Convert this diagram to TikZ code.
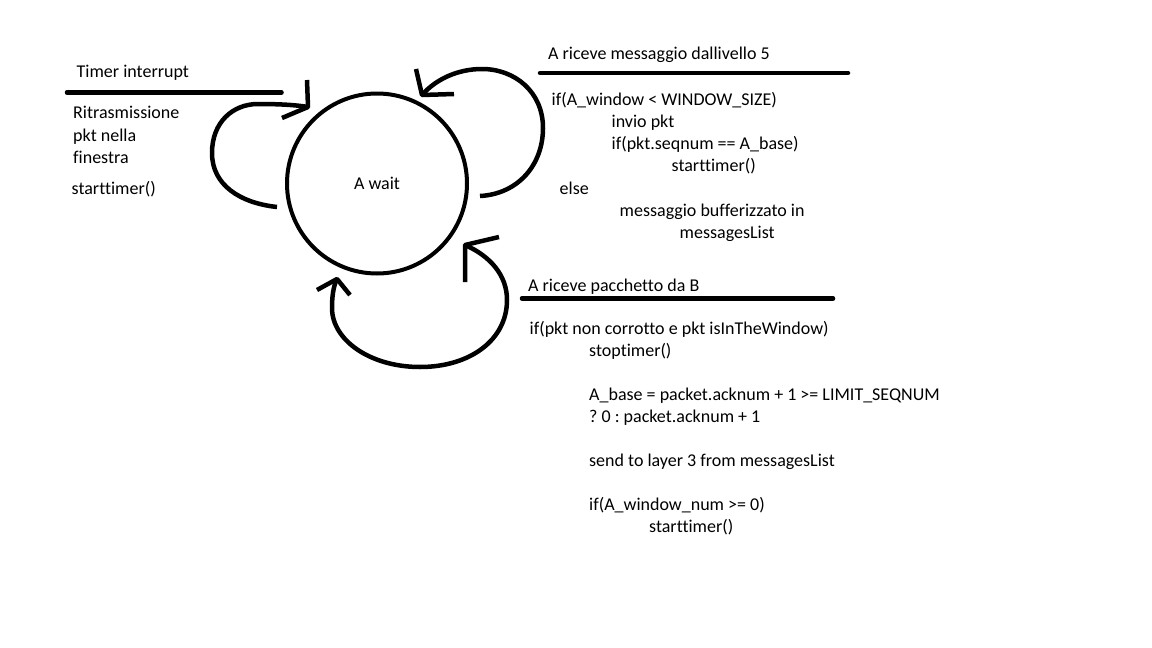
\documentclass[tikz,border=0pt]{standalone}
\usepackage{fontspec}
\setmainfont{Carlito}[Ligatures=NoCommon]
\frenchspacing

\begin{document}
\begin{tikzpicture}[x=1pt,y=-1pt,
  txt/.style={anchor=base west,inner sep=0pt,font=\fontsize{18}{22}\selectfont},
  bar/.style={line width=4.5pt,line cap=round},
  curve/.style={line width=4.5pt,line join=round},
  waitstate/.style={circle,draw,line width=4pt,minimum size=180pt,inner sep=0pt,font=\fontsize{18}{22}\selectfont}]
\useasboundingbox (0,0) rectangle (1152,648);
\node[waitstate] (wait) at (377,183.5) {A wait};
\coordinate (l1) at (277,207);\coordinate (l2) at (308,107);
\coordinate (r1) at (480,196);\coordinate (r2) at (422,95);
\coordinate (b1) at (337,279);\coordinate (b2) at (465,245);
\draw[curve] (l1) .. controls (240,203) and (212,185) .. (212,153) .. controls (212,122) and (233,104) .. (258,104) .. controls (280,104) and (296,105) .. (l2);
\draw[curve] (307,80) -- (l2) -- (282,118);
\draw[curve] (r1) .. controls (518,194) and (543,165) .. (543,128) .. controls (543,92) and (515,69) .. (482,69) .. controls (458,69) and (436,79) .. (r2);
\draw[curve] (416,69) -- (r2) -- (454,94);
\draw[curve] (b1) .. controls (333,287) and (332,298) .. (332,308) .. controls (332,340) and (370,367) .. (420,367) .. controls (470,367) and (507,340) .. (507,300) .. controls (507,275) and (490,256) .. (b2);
\draw[curve] (317,290) -- (b1) -- (350,295);
\draw[curve] (465,282) -- (b2) -- (499,237);
\node[txt] (timer) at (76.5,77) {Timer interrupt};\draw[bar] (67,92.5) -- (281.5,92.5);
\node[txt] (rit1) at (73,118.5) {Ritrasmissione};\node[txt] (rit2) at (73,141) {pkt nella};\node[txt] (rit3) at (73,163) {finestra};
\node[txt] (start1) at (71.5,194) {starttimer()};
\node[txt] (msg) at (548,59) {A riceve messaggio dallivello 5};\draw[bar] (540,73) -- (848,73);
\node[txt] (m1) at (551.5,105.5) {if(A\_window < WINDOW\_SIZE)};
\node[txt] (m2) at (611.5,127.5) {invio pkt};
\node[txt] (m3) at (611.5,149.5) {if(pkt.seqnum == A\_base)};
\node[txt] (m4) at (671.5,171.5) {starttimer()};
\node[txt] (m5) at (559.5,194) {else};
\node[txt] (m6) at (619.5,216) {messaggio bufferizzato in};
\node[txt] (m7) at (679.5,238.5) {messagesList};
\node[txt] (pkt) at (528,291.5) {A riceve pacchetto da B};\draw[bar] (522,298.5) -- (833,298.5);
\node[txt] (p1) at (529.5,334) {if(pkt non corrotto e pkt isInTheWindow)};
\node[txt] (p2) at (589,356) {stoptimer()};
\node[txt] (p3) at (589,400) {A\_base = packet.acknum + 1 >= LIMIT\_SEQNUM};
\node[txt] (p4) at (589,422) {? 0 : packet.acknum + 1};
\node[txt] (p5) at (589,466) {send to layer 3 from messagesList};
\node[txt] (p6) at (589,510.5) {if(A\_window\_num >= 0)};
\node[txt] (p7) at (649,532.5) {starttimer()};
\end{tikzpicture}
\end{document}
